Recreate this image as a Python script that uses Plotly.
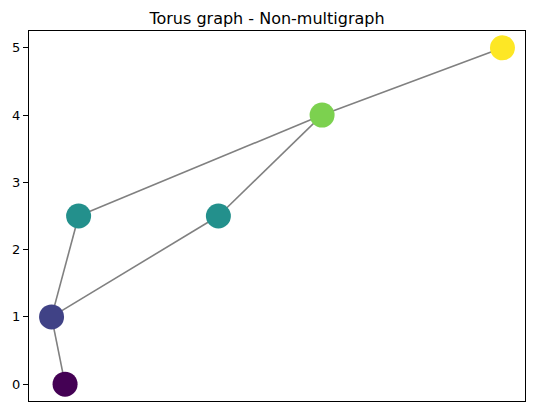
import plotly.graph_objects as go

# node positions and edges
node_x = [0.15, 0.0, 0.3, 1.85, 3.0, 5.0]
node_y = [0, 1, 2.5, 2.5, 4, 5]
edges = [(0, 1), (1, 2), (1, 3), (2, 4), (3, 4), (4, 5)]
y_ticks = [0, 1, 2, 3, 4, 5]

edge_x, edge_y = [], []
for a, b in edges:
    edge_x += [node_x[a], node_x[b], None]
    edge_y += [node_y[a], node_y[b], None]

edge_trace = go.Scatter(x=edge_x, y=edge_y, mode='lines',
                        line=dict(color='gray', width=1.6), hoverinfo='skip')
node_trace = go.Scatter(x=node_x, y=node_y, mode='markers',
                        marker=dict(size=25, color=node_y, colorscale='Viridis',
                                    cmin=0, cmax=5, line=dict(width=0)))

layout = go.Layout(
    title=dict(text='Torus graph - Non-multigraph', x=0.5, xanchor='center',
               y=1 - 18 / 411, yanchor='middle', font=dict(size=16, color='black')),
    width=534, height=411,
    margin=dict(l=29, r=9, t=31, b=10),
    plot_bgcolor='white', paper_bgcolor='white',
    font=dict(family='DejaVu Sans', color='black'),
    showlegend=False,
    xaxis=dict(range=[-0.25, 5.25], showticklabels=False, ticks='', showgrid=False,
               zeroline=False, showline=True, mirror=True, linecolor='black', linewidth=1,
               automargin=False),
    yaxis=dict(range=[-0.25, 5.25], tickvals=y_ticks, ticks='outside', ticklen=5,
               tickcolor='black', tickfont=dict(size=13), showgrid=False, zeroline=False,
               showline=True, mirror=True, linecolor='black', linewidth=1,
               automargin=False),
)

fig = go.Figure(data=[edge_trace, node_trace], layout=layout)
# page body has a default 8px margin; drop it so the figure sits at 0,0
fig.write_html("out.html", config={'displayModeBar': False},
               post_script="document.body.style.margin='0';")
